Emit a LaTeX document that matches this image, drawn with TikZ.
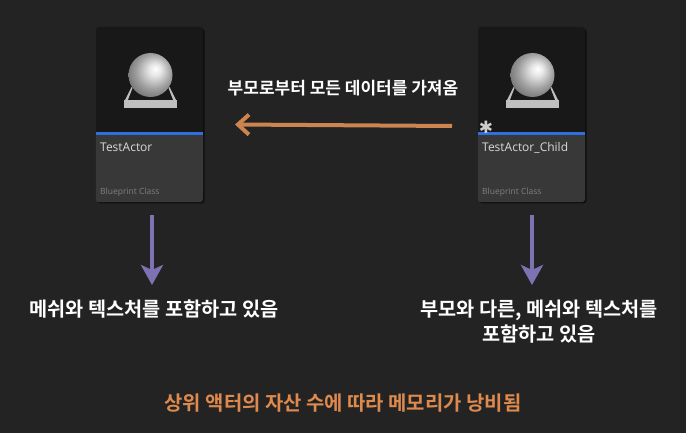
\documentclass[tikz,border=0pt]{standalone}
\usepackage{fontspec}
\setmainfont{Open Sans}
\newfontfamily\krfont{Noto Sans CJK KR}[BoldFont={Noto Sans CJK KR Bold}]
\newfontfamily\symfont{DejaVu Sans}
\usetikzlibrary{arrows.meta,positioning,shadows}

\definecolor{bgcol}{HTML}{232323}
\definecolor{thumbcol}{HTML}{181818}
\definecolor{infocol}{HTML}{383838}
\definecolor{linecol}{HTML}{2F6FE0}
\definecolor{orangecol}{HTML}{CC8450}
\definecolor{purplecol}{HTML}{7F72B2}
\definecolor{titlecol}{HTML}{DE8A4E}

\pgfdeclareradialshading{ballshade}{\pgfpoint{6bp}{7bp}}{
  color(0bp)=(white); color(7bp)=(black!10); color(20bp)=(black!38);
  color(32bp)=(black!58); color(50bp)=(black!72)}

\tikzset{
  card/.style={fill=thumbcol,rounded corners=3pt,minimum width=107pt,minimum height=175pt,
    inner sep=0pt,drop shadow={shadow xshift=1.5pt,shadow yshift=-1.5pt,opacity=.6,fill=black}},
  cardname/.style={text=black!15,font=\fontsize{12}{12}\selectfont,inner sep=0pt,anchor=base west},
  cardkind/.style={text=black!50,font=\fontsize{8.5}{8.5}\selectfont,inner sep=0pt,anchor=base west},
  msg/.style={text=white,font=\krfont\bfseries\fontsize{19.7}{25}\selectfont,align=center,inner sep=0pt},
  fetch/.style={draw=orangecol,line width=4pt,-{Straight Barb[length=11pt,width=20pt,line width=4pt]}},
  holds/.style={draw=purplecol,line width=4.6pt,-{Stealth[length=20pt,width=22pt,inset=5pt]}},
  pics/thumb/.style={code={
    \fill[black!25] (-26.5,25) -- (26.5,25) -- (26.5,33) -- (-26.5,33) -- cycle;
    \fill[black!25] (-26,26) -- (-19,12) -- (-18,13) -- (-23,26) -- cycle;
    \fill[black!25] (26,26) -- (19,12) -- (18,13) -- (23,26) -- cycle;
    \shade[shading=ballshade] (0,0) circle (22);
  }}
}

\begin{document}
\begin{tikzpicture}[x=1pt,y=-1pt]
  \useasboundingbox[fill=bgcol] (0,0) rectangle (686,433);

  % left card
  \node[card] (parent) at (149.5,114.5) {};
  \coordinate (parentline) at (203,133.5);
  \coordinate (parentleft) at (96,133.5);
  \fill[infocol,rounded corners=3pt] (parent.south west) rectangle (parentline);
  \fill[infocol] (parentleft) rectangle (203,150);
  \draw[linecol,line width=2.2pt] (parentleft) -- (parentline);
  \pic at (150.5,75) {thumb};
  \node[cardname] (parentname) at (100,151.5) {TestActor};
  \node[cardkind] (parentkind) at (100,195) {Blueprint Class};

  % right card
  \node[card] (child) at (531.5,114.5) {};
  \coordinate (childline) at (585,133.5);
  \coordinate (childleft) at (478,133.5);
  \fill[infocol,rounded corners=3pt] (child.south west) rectangle (childline);
  \fill[infocol] (childleft) rectangle (585,150);
  \draw[linecol,line width=2.2pt] (childleft) -- (childline);
  \pic at (532.5,75) {thumb};
  \node[text=black!20,font=\symfont\bfseries\fontsize{17}{17}\selectfont,inner sep=0pt] (star) at (486,127) {✱};
  \node[cardname] (childname) at (482,151.5) {TestActor\_Child};
  \node[cardkind] (childkind) at (482,195) {Blueprint Class};

  % texts
  \node[msg,font=\krfont\bfseries\fontsize{17}{24}\selectfont] (fetchmsg) at (343,88) {부모로부터 모든 데이터를 가져옴};
  \node[msg] (parentmsg) at (154,309) {메쉬와 텍스처를 포함하고 있음};
  \node[msg] (childmsg) at (539,321.5) {부모와 다른, 메쉬와 텍스처를\\포함하고 있음};
  \node[msg,text=titlecol,font=\krfont\bfseries\fontsize{19.9}{24}\selectfont] (title) at (343,403) {상위 액터의 자산 수에 따라 메모리가 낭비됨};

  % arrows
  \coordinate (fetchstart) at (452,126);
  \coordinate (fetchend) at (235,124.5);
  \draw[fetch] (fetchstart) -- (fetchend);
  \coordinate (parentstart) at (152,215);
  \coordinate (parentdown) at (152,285);
  \draw[holds] (parentstart) -- (parentdown);
  \coordinate (childstart) at (532,215);
  \coordinate (childdown) at (532,285);
  \draw[holds] (childstart) -- (childdown);
\end{tikzpicture}
\end{document}
